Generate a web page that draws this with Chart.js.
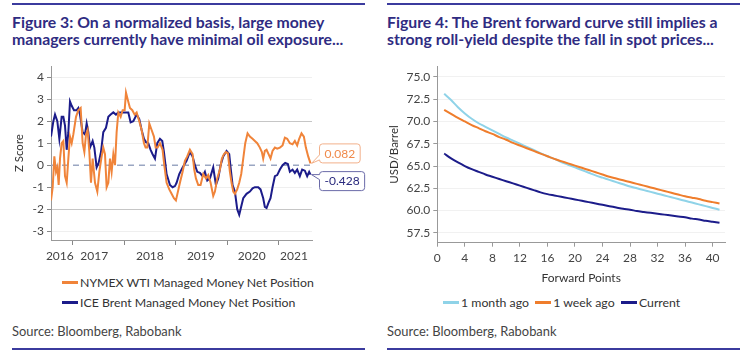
<!DOCTYPE html>
<html><head><meta charset="utf-8">
<script src="https://cdn.jsdelivr.net/npm/chart.js@4"></script>
<style>
body{margin:0;width:750px;height:356px;background:#fff;position:relative;overflow:hidden;font-family:Lato,"Noto Sans",sans-serif;}
.rule{position:absolute;height:2px;background:#3b3b9e;}
.title{position:absolute;font-weight:bold;font-size:15.8px;line-height:17px;color:#2f2c82;white-space:nowrap;}
.src{position:absolute;font-size:12.9px;color:#444;white-space:nowrap;}
.leg{position:absolute;font-size:12.3px;color:#333;white-space:nowrap;line-height:14px;}
.sw{display:inline-block;width:16px;height:3px;vertical-align:middle;margin-right:2px;position:relative;top:-1px;}
.box{position:absolute;}
</style></head>
<body>
<div class="rule" style="left:12px;top:3px;width:353px"></div>
<div class="rule" style="left:387px;top:3px;width:353px"></div>
<div class="title" style="left:12px;top:13px">Figure 3: On a normalized basis, large money<br>managers currently have minimal oil exposure...</div>
<div class="title" style="left:387px;top:13px">Figure 4: The Brent forward curve still implies a<br>strong roll-yield despite the fall in spot prices...</div>

<div class="box" style="left:0;top:56px;width:375px;height:214px"><canvas id="c1"></canvas></div>
<div class="box" style="left:375px;top:56px;width:375px;height:229px"><canvas id="c2"></canvas></div>

<div class="leg" style="left:62px;top:276px"><span class="sw" style="background:#f0843a"></span>NYMEX WTI Managed Money Net Position</div>
<div class="leg" style="left:62px;top:296px"><span class="sw" style="background:#1c1c8a"></span>ICE Brent Managed Money Net Position</div>
<div class="leg" style="left:443px;top:296px"><span class="sw" style="background:#8fd3e8"></span>1 month ago&nbsp; <span class="sw" style="background:#ef7d2c"></span>1 week ago&nbsp; <span class="sw" style="background:#1c1c8a"></span>Current</div>

<div class="src" style="left:12px;top:323px">Source: Bloomberg, Rabobank</div>
<div class="src" style="left:387px;top:323px">Source: Bloomberg, Rabobank</div>
<div class="rule" style="left:12px;top:348px;width:353px"></div>
<div class="rule" style="left:387px;top:348px;width:353px"></div>

<script>
// ---------- Figure 3 data ----------
const wtiDates = [2016.579,2016.612,2016.644,2016.676,2016.702,2016.728,2016.754,2016.786,2016.819,2016.851,2016.884,2016.916,2016.948,2016.981,2017.013,2017.065,2017.110,2017.155,2017.194,2017.227,2017.259,2017.291,2017.324,2017.356,2017.388,2017.434,2017.479,2017.518,2017.563,2017.595,2017.628,2017.660,2017.693,2017.725,2017.757,2017.790,2017.822,2017.854,2017.887,2017.932,2017.971,2018.010,2018.036,2018.068,2018.113,2018.159,2018.204,2018.243,2018.294,2018.340,2018.385,2018.417,2018.450,2018.489,2018.534,2018.579,2018.612,2018.650,2018.696,2018.747,2018.780,2018.825,2018.877,2018.922,2018.967,2019.006,2019.045,2019.084,2019.136,2019.181,2019.226,2019.278,2019.330,2019.362,2019.395,2019.440,2019.485,2019.537,2019.589,2019.634,2019.680,2019.731,2019.764,2019.809,2019.861,2019.899,2019.938,2019.977,2020.016,2020.055,2020.087,2020.120,2020.152,2020.197,2020.236,2020.275,2020.314,2020.353,2020.398,2020.443,2020.495,2020.540,2020.586,2020.637,2020.676,2020.702,2020.734,2020.767,2020.806,2020.844,2020.883,2020.929,2020.974,2021.026,2021.078,2021.123,2021.168,2021.220,2021.272,2021.317,2021.362,2021.401,2021.446,2021.492,2021.531,2021.576,2021.621];
const wtiValues = [-1.6,-1.0,0.4,-0.3,-0.1,-0.9,0.3,1.0,1.1,-0.5,-0.8,0.3,1.3,1.0,1.4,2.2,2.5,2.6,1.0,0.6,1.4,1.6,0.6,-0.8,0.3,-0.8,-1.2,-0.3,0.4,0.8,0.5,-1.0,-0.8,0.3,-0.3,0.5,0.0,1.5,2.4,2.2,2.5,2.5,3.3,3.0,2.6,2.5,2.3,2.4,2.0,1.6,1.0,0.8,0.8,1.9,1.6,1.3,0.8,0.8,1.0,0.7,0.0,-0.8,-1.1,-1.3,-1.5,-1.6,-1.2,-0.8,-0.3,0.2,0.4,0.7,0.5,-0.2,-0.6,-0.9,-0.9,-0.4,-0.6,-0.45,-0.8,-1.4,-1.2,-0.6,-0.2,0.3,0.5,0.6,0.55,-0.3,-0.8,-1.2,-1.3,-1.1,-0.8,-0.4,0.3,1.0,1.45,1.3,1.2,1.1,1.0,0.8,0.6,0.3,0.65,0.7,0.5,0.3,0.65,0.8,0.75,0.8,0.9,1.25,1.2,1.0,0.95,1.1,0.9,1.2,1.45,1.3,0.8,0.4,0.082];
const brentDates = [2016.579,2016.625,2016.657,2016.702,2016.741,2016.786,2016.819,2016.851,2016.884,2016.916,2016.948,2016.981,2017.026,2017.078,2017.110,2017.142,2017.194,2017.239,2017.272,2017.304,2017.337,2017.388,2017.421,2017.466,2017.505,2017.550,2017.595,2017.647,2017.693,2017.738,2017.790,2017.841,2017.887,2017.951,2018.016,2018.081,2018.126,2018.178,2018.243,2018.294,2018.340,2018.385,2018.424,2018.469,2018.514,2018.553,2018.599,2018.644,2018.696,2018.741,2018.773,2018.825,2018.890,2018.942,2018.987,2019.019,2019.071,2019.136,2019.213,2019.278,2019.330,2019.375,2019.421,2019.472,2019.524,2019.569,2019.615,2019.667,2019.731,2019.783,2019.828,2019.874,2019.925,2019.990,2020.042,2020.068,2020.107,2020.152,2020.197,2020.236,2020.262,2020.314,2020.378,2020.443,2020.495,2020.540,2020.605,2020.650,2020.702,2020.734,2020.767,2020.806,2020.844,2020.883,2020.929,2020.974,2021.026,2021.078,2021.129,2021.181,2021.220,2021.272,2021.317,2021.362,2021.414,2021.459,2021.511,2021.556,2021.595,2021.621];
const brentValues = [1.3,2.0,2.3,2.0,1.2,2.2,2.2,1.8,0.7,1.5,2.9,2.7,2.5,2.5,2.6,2.3,1.5,1.4,1.9,1.5,0.8,1.1,0.8,-0.1,0.1,0.6,1.5,1.7,2.2,2.3,2.4,2.3,2.4,2.4,2.4,2.4,1.95,2.0,2.3,2.1,1.6,1.2,1.05,1.0,0.7,0.5,0.3,1.0,1.2,1.1,0.6,-0.4,-0.9,-1.0,-0.95,-0.8,-0.4,-0.1,0.2,0.6,0.4,0.0,-0.3,-0.35,-0.5,-0.3,-0.7,-0.6,-0.1,-0.9,-0.6,0.0,0.4,0.65,0.5,-0.1,-0.9,-1.2,-2.0,-2.25,-2.0,-1.5,-1.3,-1.2,-1.05,-1.0,-1.0,-1.1,-1.5,-1.9,-1.95,-1.7,-1.5,-1.0,-0.5,-0.45,-0.2,0.0,0.1,0.05,-0.3,-0.2,-0.35,-0.2,-0.5,-0.2,-0.25,-0.5,-0.3,-0.428];
const yearTicks = [2017,2018,2019,2020,2021];
const yearLabels = ['2016','2017','2018','2019','2020','2021'];
const yearLabelPos = [2016.75,2017.42,2018.5,2019.49,2020.48,2021.3];
const zRange = [2016.579, 2021.65];

// ---------- Figure 4 data ----------
const forwardPoints = [1,2,3,4,5,6,7,8,9,10,11,12,13,14,15,16,17,18,19,20,21,22,23,24,25,26,27,28,29,30,31,32,33,34,35,36,37,38,39,40,41];
const monthAgo = [73.1,72.4,71.6,70.9,70.3,69.8,69.4,69.0,68.6,68.2,67.85,67.5,67.15,66.8,66.45,66.1,65.8,65.45,65.15,64.85,64.55,64.25,63.95,63.7,63.45,63.2,62.95,62.7,62.5,62.3,62.1,61.9,61.7,61.5,61.3,61.1,60.9,60.7,60.5,60.3,60.1];
const weekAgo = [71.3,70.85,70.4,70.0,69.6,69.25,68.9,68.6,68.25,67.95,67.6,67.3,67.0,66.7,66.4,66.1,65.8,65.55,65.3,65.05,64.8,64.55,64.3,64.05,63.8,63.6,63.4,63.2,63.0,62.8,62.6,62.4,62.2,62.0,61.8,61.6,61.45,61.3,61.1,60.95,60.8];
const current = [66.4,65.85,65.4,65.0,64.65,64.35,64.05,63.8,63.55,63.3,63.05,62.8,62.55,62.3,62.05,61.85,61.7,61.55,61.4,61.25,61.1,60.95,60.8,60.65,60.5,60.35,60.2,60.1,59.95,59.85,59.75,59.65,59.55,59.45,59.35,59.25,59.1,59.0,58.85,58.75,58.65];

Chart.defaults.font.family = 'Lato, "Noto Sans", sans-serif';
Chart.defaults.color = '#444';
Chart.defaults.animation = false;

const pts = (xs, ys) => xs.map((x,i)=>({x, y: ys[i]}));

const endLabelPlugin = {
  id: 'endLabels',
  afterDatasetsDraw(chart){
    const ctx = chart.ctx, xs = chart.scales.x, ys = chart.scales.y;
    chart.data.datasets.forEach(ds=>{
      if(!ds.endLabel) return;
      const p = ds.data[ds.data.length-1];
      const px = xs.getPixelForValue(p.x), py = ys.getPixelForValue(p.y);
      const txt = p.y.toFixed(3);
      ctx.save();
      ctx.font = '12px Lato, "Noto Sans", sans-serif';
      const w = ctx.measureText(txt).width + 10, h = 19, r = 3;
      const bx = px + 9, cy = py + ds.endLabel.dy, by = cy - h/2;
      const ty = Math.max(by+4, Math.min(by+h-4, py));
      ctx.beginPath();
      ctx.moveTo(bx+r, by);
      ctx.lineTo(bx+w-r, by); ctx.arcTo(bx+w, by, bx+w, by+r, r);
      ctx.lineTo(bx+w, by+h-r); ctx.arcTo(bx+w, by+h, bx+w-r, by+h, r);
      ctx.lineTo(bx+r, by+h); ctx.arcTo(bx, by+h, bx, by+h-r, r);
      ctx.lineTo(bx, Math.min(by+h-r, ty+4));
      ctx.lineTo(px+1, py);
      ctx.lineTo(bx, Math.max(by+r, ty-4));
      ctx.lineTo(bx, by+r); ctx.arcTo(bx, by, bx+r, by, r);
      ctx.closePath();
      ctx.fillStyle = '#fff'; ctx.fill();
      ctx.strokeStyle = ds.endLabel.border; ctx.lineWidth = 1; ctx.stroke();
      ctx.fillStyle = ds.endLabel.color;
      ctx.textBaseline = 'middle'; ctx.textAlign = 'left';
      ctx.fillText(txt, bx+5, cy+0.5);
      ctx.restore();
    });
  }
};

new Chart(document.getElementById('c1'), {
  type: 'line',
  data: { datasets: [
    { data: pts(wtiDates, wtiValues), borderColor:'#f0843a', borderWidth:2, pointRadius:0, tension:0,
      endLabel:{dy:-10, color:'#f08a4b', border:'#f2b08a'} },
    { data: pts(brentDates, brentValues), borderColor:'#1c1c8a', borderWidth:2, pointRadius:0, tension:0,
      endLabel:{dy:6.5, color:'#2a2a7e', border:'#6a6aa8'} },
    { data: [{x:zRange[0],y:0},{x:zRange[1],y:0}], borderColor:'#9aa6c2', borderWidth:1.5, borderDash:[6,5], pointRadius:0 }
  ]},
  options: {
    responsive:true, maintainAspectRatio:false,
    layout:{padding:{left:10,right:63,top:7,bottom:0}},
    plugins:{legend:{display:false}, tooltip:{enabled:false}},
    scales:{
      x:{ type:'linear', min:zRange[0], max:zRange[1],
        afterBuildTicks(s){ s.ticks = yearTicks.concat(yearLabelPos).sort((a,b)=>a-b).map(v=>({value:v})); },
        ticks:{ autoSkip:false, maxRotation:0, padding:4, font:{size:12}, color:'#444',
          callback(v){ const i = yearLabelPos.indexOf(v); return i>=0 ? yearLabels[i] : ''; } },
        grid:{ drawOnChartArea:false, tickLength:5,
          tickColor: c => (c.tick && yearTicks.includes(c.tick.value)) ? '#888' : 'rgba(0,0,0,0)' },
        border:{color:'#999'},
        afterFit(s){ s.height = 30; }
      },
      y:{ min:-3.4, max:4.5,
        ticks:{ stepSize:1, includeBounds:false, padding:3, font:{size:12}, color:'#444' },
        grid:{ tickLength:4, tickColor:'#888',
          color: c => { const v = c.tick ? c.tick.value : null; return v===0 ? 'rgba(0,0,0,0)' : (Math.abs(v)===2 ? '#c6c6c6' : '#efefef'); } },
        border:{color:'#999'},
        title:{display:true, text:'Z Score', font:{size:11.5}, color:'#333', padding:2},
        afterFit(s){ s.width = 41; }
      }
    }
  },
  plugins:[endLabelPlugin]
});

new Chart(document.getElementById('c2'), {
  type: 'line',
  data: { datasets: [
    { label:'Current', data: pts(forwardPoints, current), borderColor:'#1c1c8a', borderWidth:2, pointRadius:0, tension:0.3 },
    { label:'1 week ago', data: pts(forwardPoints, weekAgo), borderColor:'#ef7d2c', borderWidth:2, pointRadius:0, tension:0.3 },
    { label:'1 month ago', data: pts(forwardPoints, monthAgo), borderColor:'#8fd3e8', borderWidth:2, pointRadius:0, tension:0.3 }
  ]},
  options: {
    responsive:true, maintainAspectRatio:false,
    layout:{padding:{left:10,right:25,top:7,bottom:0}},
    plugins:{legend:{display:false}, tooltip:{enabled:false}},
    scales:{
      x:{ type:'linear', min:0, max:41.8,
        ticks:{ stepSize:4, includeBounds:false, autoSkip:false, maxRotation:0, padding:4, font:{size:12}, color:'#444' },
        grid:{ drawOnChartArea:false, tickLength:4, tickColor:'#999' },
        border:{color:'#999'},
        title:{display:true, text:'Forward Points', font:{size:12}, color:'#333', padding:{top:2,bottom:0}},
        afterFit(s){ s.height = 42.3; }
      },
      y:{ min:56.4, max:76.2,
        ticks:{ stepSize:2.5, includeBounds:false, padding:3, font:{size:12}, color:'#444', callback:v=>v.toFixed(1) },
        grid:{ tickLength:4, tickColor:'#999', color:'#f1f1f1' },
        border:{color:'#999'},
        title:{display:true, text:'USD/Barrel', font:{size:11.5}, color:'#333', padding:2},
        afterFit(s){ s.width = 52.3; }
      }
    }
  }
});
</script>
</body></html>
